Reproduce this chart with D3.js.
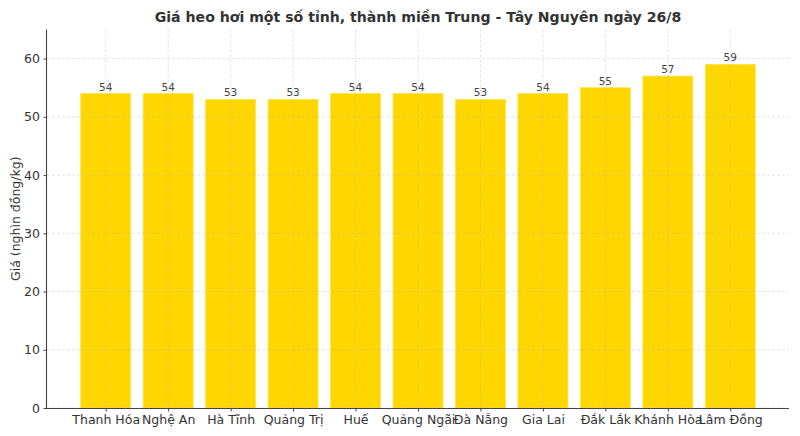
<!DOCTYPE html>
<html><head><meta charset="utf-8">
<script src="https://cdn.jsdelivr.net/npm/d3@7"></script>
<style>body{margin:0;background:#fff}svg{display:block;font-family:"DejaVu Sans",sans-serif}</style>
</head><body><svg id="c" width="800" height="436"></svg>
<script>
const categories = ["Thanh Hóa","Nghệ An","Hà Tĩnh","Quảng Trị","Huế","Quảng Ngãi","Đà Nẵng","Gia Lai","Đắk Lắk","Khánh Hòa","Lâm Đồng"];
const values = [54,54,53,53,54,54,53,54,55,57,59];
const yTicks = [0,10,20,30,40,50,60];
const title = "Giá heo hơi một số tỉnh, thành miền Trung - Tây Nguyên ngày 26/8";
const yLabel = "Giá (nghìn đồng/kg)";

const svg = d3.select("#c");
const L = 47, R = 789, T = 29.5, B = 408;
const n = categories.length;
const x = d3.scaleLinear().domain([-0.94, n - 1 + 0.94]).range([L, R]);
const y = d3.scaleLinear().domain([0, 65]).range([B, T]);
const bw = x(0.8) - x(0);

// bars
svg.append("g").selectAll("rect").data(values).join("rect")
  .attr("x", (d,i) => x(i) - bw/2).attr("width", bw)
  .attr("y", d => y(d)).attr("height", d => y(0) - y(d))
  .attr("fill", "#FFD700").attr("stroke", "#FFE24D").attr("stroke-width", 0.8);

// grid
const g = svg.append("g").attr("stroke", "#b0b0b0").attr("stroke-opacity", 0.45)
  .attr("stroke-dasharray", "3,2").attr("stroke-width", 0.8);
g.selectAll("line.h").data(yTicks).join("line").attr("class","h")
  .attr("x1", L).attr("x2", R).attr("y1", d => y(d)).attr("y2", d => y(d));
g.selectAll("line.v").data(categories).join("line").attr("class","v")
  .attr("x1", (d,i) => x(i)).attr("x2", (d,i) => x(i)).attr("y1", T).attr("y2", B);

// value labels
svg.append("g").selectAll("text").data(values).join("text")
  .attr("x", (d,i) => x(i)).attr("y", d => y(d) - 3)
  .attr("text-anchor", "middle").attr("font-size", 10.5).attr("fill", "#444")
  .text(d => d);

// axes
const xAxis = d3.axisBottom(x).tickValues(d3.range(n)).tickFormat(i => categories[i]).tickSize(3.5).tickPadding(3.5);
const yAxis = d3.axisLeft(y).tickValues(yTicks).tickSize(3.5).tickPadding(3.5);
const gx = svg.append("g").attr("transform", `translate(0,${B})`).call(xAxis);
const gy = svg.append("g").attr("transform", `translate(${L},0)`).call(yAxis);
[gx, gy].forEach(a => {
  a.select(".domain").attr("stroke", "#444").attr("stroke-width", 1.1);
  a.selectAll(".tick line").attr("stroke", "#444");
  a.selectAll(".tick text").attr("fill", "#333").attr("font-size", 12.5).attr("font-family", "DejaVu Sans");
});
gx.select(".domain").attr("d", `M${L},0.5H${R}`);
gy.select(".domain").attr("d", `M-0.5,${B}V${T}`);

// title
svg.append("text").attr("x", (L+R)/2).attr("y", 22).attr("text-anchor", "middle")
  .attr("font-size", 14.1).attr("font-weight", "bold").attr("fill", "#333").text(title);
// y label
svg.append("text").attr("transform", `translate(20,${(T+B)/2}) rotate(-90)`)
  .attr("text-anchor", "middle").attr("font-size", 12.5).attr("fill", "#333").text(yLabel);
</script></body></html>
